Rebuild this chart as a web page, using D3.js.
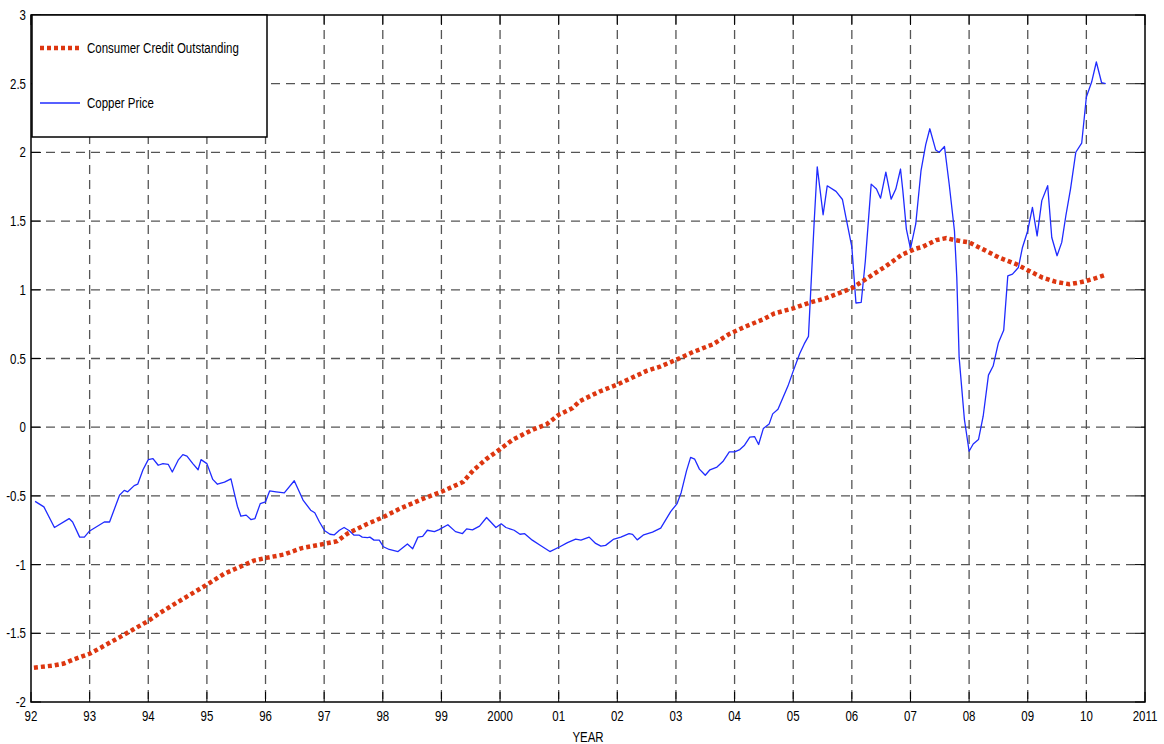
<!DOCTYPE html>
<html>
<head>
<meta charset="utf-8">
<script src="https://d3js.org/d3.v7.min.js"></script>
<style>
  html, body { margin: 0; padding: 0; background: #fff; }
  svg { display: block; }
  text { font-family: "Liberation Sans", Arial, sans-serif; fill: #000; }
</style>
</head>
<body>
<svg id="chart" width="1164" height="744"></svg>
<script>
// ---- data ----
const creditYears = [1992.05,1992.39,1992.56,1992.73,1993.00,1993.24,1993.53,1993.75,1994.00,1994.21,1994.49,1994.78,1995.00,1995.29,1995.57,1995.80,1996.01,1996.31,1996.62,1996.93,1997.22,1997.39,1997.73,1998.00,1998.29,1998.69,1999.00,1999.37,1999.54,1999.77,2000.00,2000.22,2000.56,2000.79,2001.00,2001.24,2001.36,2001.70,2002.00,2002.30,2002.50,2002.73,2003.00,2003.29,2003.63,2003.92,2004.20,2004.48,2004.68,2005.00,2005.28,2005.56,2006.00,2006.24,2006.58,2006.86,2007.09,2007.21,2007.44,2007.61,2007.75,2008.00,2008.23,2008.51,2008.80,2009.00,2009.25,2009.48,2009.71,2009.88,2010.00,2010.16,2010.33];
const creditValues = [-1.75,-1.734,-1.72,-1.69,-1.649,-1.593,-1.524,-1.471,-1.41,-1.349,-1.276,-1.202,-1.146,-1.068,-1.015,-0.971,-0.951,-0.927,-0.88,-0.855,-0.83,-0.776,-0.705,-0.656,-0.593,-0.52,-0.47,-0.398,-0.315,-0.23,-0.16,-0.09,-0.017,0.02,0.09,0.14,0.19,0.26,0.31,0.37,0.41,0.441,0.49,0.547,0.603,0.681,0.735,0.784,0.828,0.865,0.907,0.939,1.012,1.078,1.172,1.257,1.299,1.313,1.362,1.376,1.362,1.345,1.296,1.235,1.187,1.143,1.089,1.058,1.041,1.053,1.065,1.085,1.109];

const copperYears = [1992.07,1992.22,1992.40,1992.65,1992.71,1992.83,1992.91,1993.00,1993.25,1993.34,1993.51,1993.59,1993.65,1993.76,1993.82,1993.91,1994.00,1994.08,1994.17,1994.25,1994.34,1994.41,1994.51,1994.59,1994.66,1994.76,1994.85,1994.90,1995.00,1995.10,1995.18,1995.30,1995.41,1995.52,1995.58,1995.67,1995.75,1995.82,1995.91,1996.00,1996.07,1996.18,1996.32,1996.49,1996.64,1996.77,1996.84,1996.92,1997.01,1997.10,1997.17,1997.26,1997.34,1997.43,1997.51,1997.60,1997.65,1997.74,1997.78,1997.85,1997.94,1998.01,1998.11,1998.26,1998.42,1998.51,1998.60,1998.68,1998.76,1998.88,1998.96,1999.11,1999.24,1999.36,1999.43,1999.53,1999.65,1999.77,1999.93,2000.02,2000.10,2000.24,2000.34,2000.42,2000.55,2000.69,2000.85,2001.02,2001.15,2001.29,2001.38,2001.52,2001.63,2001.72,2001.80,2001.93,2002.06,2002.20,2002.26,2002.34,2002.45,2002.60,2002.74,2002.91,2003.02,2003.09,2003.18,2003.25,2003.32,2003.40,2003.50,2003.58,2003.70,2003.80,2003.91,2004.00,2004.09,2004.17,2004.26,2004.34,2004.41,2004.49,2004.59,2004.65,2004.74,2004.91,2005.00,2005.11,2005.19,2005.26,2005.36,2005.41,2005.51,2005.58,2005.73,2005.84,2005.90,2006.00,2006.07,2006.16,2006.23,2006.33,2006.42,2006.49,2006.58,2006.67,2006.75,2006.83,2006.87,2006.93,2007.00,2007.09,2007.18,2007.26,2007.33,2007.43,2007.49,2007.58,2007.66,2007.75,2007.79,2007.83,2007.92,2008.00,2008.07,2008.16,2008.24,2008.33,2008.41,2008.50,2008.59,2008.66,2008.74,2008.84,2008.91,2009.00,2009.08,2009.16,2009.24,2009.34,2009.41,2009.50,2009.58,2009.65,2009.73,2009.82,2009.92,2010.00,2010.09,2010.17,2010.26,2010.33];
const copperValues = [-0.54,-0.58,-0.73,-0.665,-0.69,-0.80,-0.80,-0.755,-0.69,-0.69,-0.495,-0.46,-0.47,-0.425,-0.415,-0.31,-0.236,-0.228,-0.277,-0.265,-0.27,-0.326,-0.24,-0.20,-0.21,-0.265,-0.31,-0.236,-0.265,-0.38,-0.415,-0.40,-0.376,-0.575,-0.648,-0.64,-0.672,-0.665,-0.556,-0.543,-0.464,-0.47,-0.478,-0.39,-0.53,-0.604,-0.623,-0.69,-0.754,-0.779,-0.784,-0.75,-0.73,-0.754,-0.786,-0.786,-0.80,-0.803,-0.80,-0.822,-0.822,-0.87,-0.89,-0.905,-0.85,-0.885,-0.80,-0.795,-0.75,-0.76,-0.745,-0.71,-0.76,-0.774,-0.74,-0.747,-0.72,-0.657,-0.73,-0.703,-0.73,-0.75,-0.779,-0.775,-0.822,-0.861,-0.905,-0.87,-0.84,-0.815,-0.822,-0.80,-0.846,-0.866,-0.86,-0.817,-0.80,-0.775,-0.78,-0.82,-0.783,-0.764,-0.735,-0.614,-0.556,-0.475,-0.318,-0.22,-0.233,-0.305,-0.35,-0.31,-0.29,-0.25,-0.18,-0.18,-0.163,-0.131,-0.073,-0.068,-0.126,-0.01,0.024,0.097,0.131,0.299,0.408,0.535,0.608,0.661,1.514,1.895,1.546,1.757,1.716,1.657,1.526,1.312,0.904,0.909,1.21,1.769,1.733,1.667,1.857,1.66,1.733,1.879,1.72,1.442,1.30,1.479,1.868,2.057,2.172,2.018,2.001,2.043,1.770,1.43,1.09,0.506,0.056,-0.175,-0.122,-0.09,0.08,0.379,0.445,0.615,0.705,1.102,1.114,1.162,1.308,1.43,1.60,1.393,1.649,1.758,1.381,1.248,1.345,1.539,1.734,2.001,2.067,2.403,2.512,2.658,2.507,2.50];

const xTickValues = [1992,1993,1994,1995,1996,1997,1998,1999,2000,2001,2002,2003,2004,2005,2006,2007,2008,2009,2010,2011];
const xTickLabels = ["92","93","94","95","96","97","98","99","2000","01","02","03","04","05","06","07","08","09","10","2011"];
const yTickValues = [-2,-1.5,-1,-0.5,0,0.5,1,1.5,2,2.5,3];
const seriesNames = ["Consumer Credit Outstanding","Copper Price"];
const xAxisTitle = "YEAR";

// ---- layout ----
const svg = d3.select("#chart");
const L = 31, R = 1145, T = 15, B = 702;
const SX = 0.82; // horizontal squeeze to mimic a narrow font
const x = d3.scaleLinear().domain([1992, 2011]).range([L, R]);
const y = d3.scaleLinear().domain([-2, 3]).range([B, T]);

// place a narrow text: anchor point (ax, ay)
function narrowText(parent, ax, ay, str, anchor) {
  return parent.append("text")
    .attr("transform", `translate(${ax},${ay}) scale(${SX},1)`)
    .attr("text-anchor", anchor).attr("font-size", 14).text(str);
}

// grid
const grid = svg.append("g");
grid.selectAll("line.vg").data(xTickValues.slice(1, -1)).enter().append("line")
  .attr("x1", d => x(d)).attr("x2", d => x(d)).attr("y1", T).attr("y2", B)
  .attr("stroke", "#555").attr("stroke-width", 1.3).attr("stroke-dasharray", "9,6");
grid.selectAll("line.hg").data(yTickValues.slice(1, -1)).enter().append("line")
  .attr("x1", L).attr("x2", R).attr("y1", d => y(d)).attr("y2", d => y(d))
  .attr("stroke", "#555").attr("stroke-width", 1.3).attr("stroke-dasharray", "9,6");

// inner ticks on all four sides
const tk = 10;
const ticks = svg.append("g").attr("stroke", "#000").attr("stroke-width", 1);
xTickValues.forEach(v => {
  ticks.append("line").attr("x1", x(v)).attr("x2", x(v)).attr("y1", B).attr("y2", B - tk);
  ticks.append("line").attr("x1", x(v)).attr("x2", x(v)).attr("y1", T).attr("y2", T + tk);
});
yTickValues.forEach(v => {
  ticks.append("line").attr("x1", L).attr("x2", L + tk).attr("y1", y(v)).attr("y2", y(v));
  ticks.append("line").attr("x1", R).attr("x2", R - tk).attr("y1", y(v)).attr("y2", y(v));
});

// series
const lineGen = d3.line().x(d => x(d[0])).y(d => y(d[1]));
const credit = creditYears.map((d, i) => [d, creditValues[i]]);
const copper = copperYears.map((d, i) => [d, copperValues[i]]);

svg.append("path").datum(copper)
  .attr("d", lineGen).attr("fill", "none")
  .attr("stroke", "#1f2bff").attr("stroke-width", 1.3).attr("stroke-linejoin", "round");
svg.append("path").datum(credit)
  .attr("d", lineGen).attr("fill", "none")
  .attr("stroke", "#dd3610").attr("stroke-width", 4.5).attr("stroke-dasharray", "4,3");

// frame
svg.append("rect").attr("x", L).attr("y", T).attr("width", R - L).attr("height", B - T)
  .attr("fill", "none").attr("stroke", "#000").attr("stroke-width", 1.5);

// axis labels (positions from the scales)
const gx = svg.append("g");
xTickValues.forEach((v, i) => narrowText(gx, x(v), B + 19, xTickLabels[i], "middle"));
const gy = svg.append("g");
yTickValues.forEach(v => narrowText(gy, L - 5, y(v) + 5, String(v), "end"));

narrowText(svg, (L + R) / 2, 742, xAxisTitle, "middle");

// legend
const lg = svg.append("g");
lg.append("rect").attr("x", L + 1).attr("y", T).attr("width", 235).attr("height", 122)
  .attr("fill", "#fff").attr("stroke", "#000").attr("stroke-width", 1.5);
lg.append("line").attr("x1", 40).attr("x2", 80).attr("y1", 48).attr("y2", 48)
  .attr("stroke", "#dd3610").attr("stroke-width", 4.5).attr("stroke-dasharray", "4,3");
narrowText(lg, 87, 53, seriesNames[0], "start");
lg.append("line").attr("x1", 40).attr("x2", 80).attr("y1", 103).attr("y2", 103)
  .attr("stroke", "#1f2bff").attr("stroke-width", 1.3);
narrowText(lg, 87, 108, seriesNames[1], "start");
</script>
</body>
</html>
